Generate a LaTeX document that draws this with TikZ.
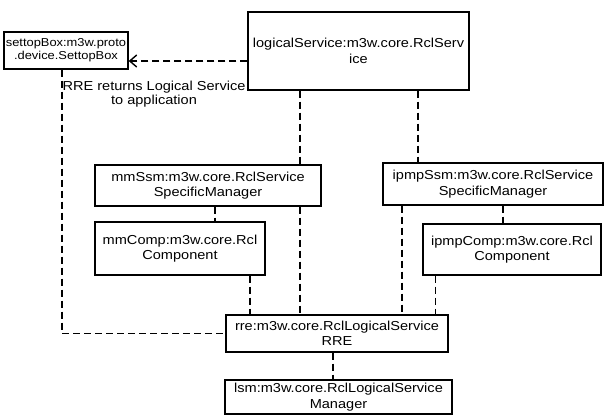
\documentclass[tikz,border=0pt]{standalone}
\usepackage{fontspec}
\newfontfamily\boxfont[FakeStretch=1.12]{Liberation Sans}
\usetikzlibrary{arrows.meta}
\tikzset
{
    object/.style      = {rectangle, draw=black, line width=1.3pt, align=center, inner sep=1pt, font=\boxfont\fontsize{13}{15.5}\selectfont},
    smallobject/.style = {object, font=\boxfont\fontsize{11.5}{13}\selectfont},
    note/.style        = {align=center, inner sep=0pt, font=\boxfont\fontsize{13}{14}\selectfont},
    link/.style        = {line width=1.2pt, dash pattern=on 7pt off 4pt},
    reply/.style       = {link, -{Straight Barb[length=7pt, width=12pt, line width=1.4pt]}}
}

\begin{document}
\begin{tikzpicture}[x=1pt, y=-1pt]
   \useasboundingbox (0,0) rectangle (605,416);

   \node (settop)   [smallobject, minimum width=124pt, minimum height=37pt] at (66, 50.5)    {settopBox:m3w.proto\\.device.SettopBox};
   \node (logical)  [object, minimum width=221pt, minimum height=78pt]      at (358.5, 51)   {logicalService:m3w.core.RclServ\\ice};
   \node (mmSsm)    [object, minimum width=226pt, minimum height=41pt]      at (208, 185.5)  {mmSsm:m3w.core.RclService\\SpecificManager};
   \node (ipmpSsm)  [object, minimum width=220pt, minimum height=42pt]      at (493, 184)    {ipmpSsm:m3w.core.RclService\\SpecificManager};
   \node (mmComp)   [object, minimum width=170pt, minimum height=53pt]      at (180, 248.5)  {mmComp:m3w.core.Rcl\\Component};
   \node (ipmpComp) [object, minimum width=178pt, minimum height=51pt]      at (512, 249.5)  {ipmpComp:m3w.core.Rcl\\Component};
   \node (rre)      [object, minimum width=222pt, minimum height=37pt]      at (337, 333.5)  {rre:m3w.core.RclLogicalService\\RRE};
   \node (lsm)      [object, minimum width=227pt, minimum height=34pt]      at (338.5, 397)  {lsm:m3w.core.RclLogicalService\\Manager};

   \node (answer)   [note] at (154, 94) {RRE returns Logical Service\\to application};

   % returned service goes back to the settop box
   \path
      ([yshift=-10pt]logical.west)    edge[reply] ([yshift=-10pt]logical.west -| settop.east)
      ([xshift=-58.5pt]logical.south) edge[link]  ([xshift=-58.5pt]logical.south |- mmSsm.north)
      ([xshift=59.5pt]logical.south)  edge[link]  ([xshift=59.5pt]logical.south |- ipmpSsm.north)
      ([xshift=7pt]mmSsm.south)       edge[link]  ([xshift=7pt]mmSsm.south |- mmComp.north)
      ([xshift=92pt]mmSsm.south)      edge[link]  ([xshift=92pt]mmSsm.south |- rre.north)
      ([xshift=10pt]ipmpSsm.south)    edge[link]  ([xshift=10pt]ipmpSsm.south |- ipmpComp.north)
      ([xshift=-91pt]ipmpSsm.south)   edge[link]  ([xshift=-91pt]ipmpSsm.south |- rre.north)
      ([xshift=70pt]mmComp.south)     edge[link]  ([xshift=70pt]mmComp.south |- rre.north)
      ([xshift=-76.5pt]ipmpComp.south) edge[link] ([xshift=-76.5pt]ipmpComp.south |- rre.north)
      ([xshift=-4pt]rre.south)        edge[link]  ([xshift=-4pt]rre.south |- lsm.north);
   \draw[link] ([xshift=-4pt]settop.south) |- (rre.west);
\end{tikzpicture}
\end{document}
